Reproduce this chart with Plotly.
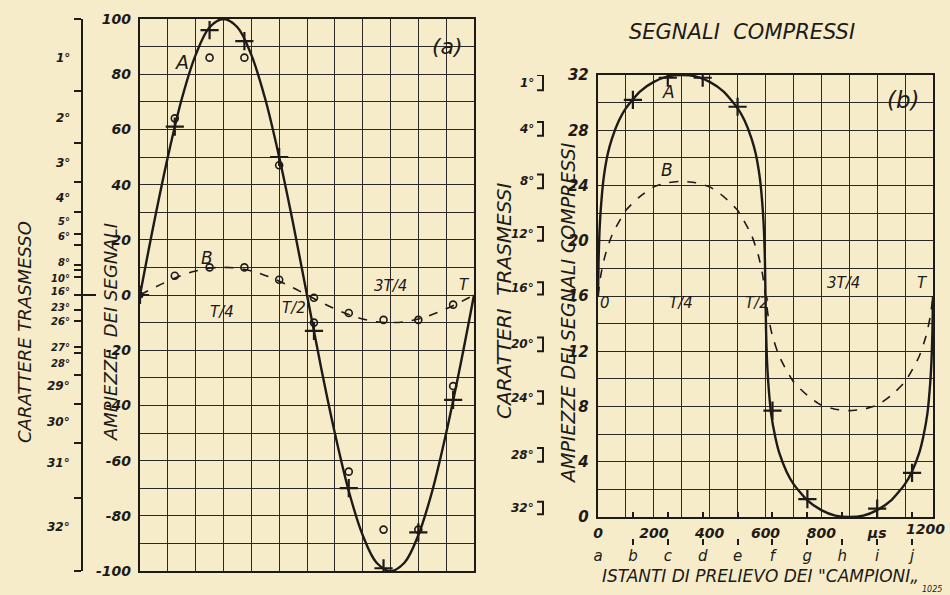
import plotly.graph_objects as go

# ---------------- data ----------------
# panel (a): time axis (µs) and amplitudes
t_a = [0, 50, 100, 150, 200, 250, 300, 350, 400, 450, 500, 550, 600,
       650, 700, 750, 800, 850, 900, 950, 1000, 1050, 1100, 1150, 1200]
A_a = [0, 26, 50, 71, 87, 97, 100, 97, 87, 71, 50, 26, 0,
       -26, -50, -71, -87, -97, -100, -97, -87, -71, -50, -26, 0]
B_a = [0, 2.6, 5, 7.1, 8.7, 9.7, 10, 9.7, 8.7, 7.1, 5, 2.6, 0,
       -2.6, -5, -7.1, -8.7, -9.7, -10, -9.7, -8.7, -7.1, -5, -2.6, 0]

sample_t = [0, 125, 250, 375, 500, 625, 750, 875, 1000, 1125]
sample_letters = ["a", "b", "c", "d", "e", "f", "g", "h", "i", "j"]

A_cross = [0, 61, 96, 92, 50, -13, -70, -99, -86, -38]
circ_t = [125, 250, 375, 500, 625, 750, 875, 1000, 1125]
A_circ = [64, 86, 86, 47, -10, -64, -85, -85, -33]
B_circ = [7, 10, 10, 5.5, -1, -6.5, -9, -9, -3.5]

a_yticks = [100, 80, 60, 40, 20, 0, -20, -40, -60, -80, -100]

# left ruler of panel (a): transmitted characters
ruler_ticks = [100, 74, 55, 41, 30, 22, 18, 11, 9, 6.5, 0,
               -5.5, -9.5, -19, -21, -29, -39.5, -53.5, -73.5, -100]
ruler_labels = ["1°", "2°", "3°", "4°", "5°", "6°", "8°", "10°", "16°",
                "23°", "26°", "27°", "28°", "29°", "30°", "31°", "32°"]
ruler_label_pos = [85.7, 64, 47.7, 35, 26.5, 21.3, 11.6, 5.9, 1.2,
                   -4.4, -9.6, -19, -24.8, -33, -46, -61, -84]

# panel (b): compressed signals
t_bA = [0, 2, 5, 10, 20, 35, 50, 75, 100, 150, 200, 250, 300, 350, 400, 450,
        500, 525, 550, 565, 580, 590, 595, 598, 600, 602, 605, 610, 620, 635,
        650, 675, 700, 750, 800, 850, 900, 950, 1000, 1050, 1100, 1125, 1150,
        1165, 1180, 1190, 1195, 1198, 1200]
A_b = [16, 18.5, 20.5, 22.3, 24.5, 26.3, 27.4, 28.7, 29.6, 30.8, 31.5, 31.9,
       32, 31.9, 31.5, 30.8, 29.6, 28.7, 27.4, 26.3, 24.5, 22.3, 20.5, 18.5,
       16, 13.5, 11.5, 9.7, 7.5, 5.8, 4.6, 3.3, 2.4, 1.2, 0.5, 0.1, 0, 0.1,
       0.5, 1.2, 2.4, 3.3, 4.6, 5.8, 7.5, 9.7, 11.5, 13.5, 16]
t_bB = [0, 10, 25, 50, 100, 150, 200, 250, 300, 350, 400, 450, 500, 550, 575,
        590, 600, 610, 625, 650, 700, 750, 800, 850, 900, 950, 1000, 1050,
        1100, 1150, 1175, 1190, 1200]
B_b = [16, 17.5, 18.9, 20.4, 22.2, 23.2, 23.9, 24.2, 24.3, 24.2, 23.9, 23.2,
       22.2, 20.4, 18.9, 17.5, 16, 14.5, 13.1, 11.6, 9.8, 8.8, 8.1, 7.8, 7.7,
       7.8, 8.1, 8.8, 9.8, 11.6, 13.1, 14.5, 16]

cross_b_t = [125, 250, 375, 500, 625, 750, 1000, 1125]
cross_b = [30.2, 31.8, 31.8, 29.7, 7.7, 1.3, 0.6, 3.2]

b_yticks = [0, 4, 8, 12, 16, 20, 24, 28, 32]
b_xticks = [0, 200, 400, 600, 800, 1000]
b_xlabels = ["0", "200", "400", "600", "800", "µs"]
b_xlast = (1200, "1200")

char_labels_b = ["1°", "4°", "8°", "12°", "16°", "20°", "24°", "28°", "32°"]
bracket_top = [32, 28.6, 24.8, 21, 17, 13, 9.1, 5, 1.1]
bracket_bot = [30.9, 27.6, 23.8, 20, 16.1, 12, 8.2, 4, 0.2]

# ---------------- style ----------------
W, H = 950, 595
bg = "#f6ecca"
ink = "#1d1a17"
grid = "#2b2825"
FONT = "DejaVu Sans"


def px(x):
    return x / W


def py(y):
    return 1 - y / H


def it(size, bold=False):
    return dict(family=FONT, size=size, color=ink, style="italic",
                weight="bold" if bold else "normal")


fig = go.Figure()

# panel (a)
fig.add_trace(go.Scatter(x=t_a, y=A_a, mode="lines", xaxis="x", yaxis="y",
                         line=dict(color=ink, width=2.4, shape="spline")))
fig.add_trace(go.Scatter(x=t_a, y=B_a, mode="lines", xaxis="x", yaxis="y",
                         line=dict(color=ink, width=1.6, dash="dash",
                                   shape="spline")))
fig.add_trace(go.Scatter(x=sample_t, y=A_cross, mode="markers", xaxis="x", yaxis="y",
                         marker=dict(symbol="cross-thin", size=13,
                                     line=dict(color=ink, width=2.2))))
fig.add_trace(go.Scatter(x=circ_t, y=A_circ, mode="markers", xaxis="x", yaxis="y",
                         marker=dict(symbol="circle-open", size=7, color=ink,
                                     line=dict(color=ink, width=1.6))))
fig.add_trace(go.Scatter(x=circ_t, y=B_circ, mode="markers", xaxis="x", yaxis="y",
                         marker=dict(symbol="circle-open", size=7, color=ink,
                                     line=dict(color=ink, width=1.6))))
fig.add_trace(go.Scatter(x=[0], y=[0], mode="markers", xaxis="x", yaxis="y",
                         marker=dict(symbol="circle", size=7, color=ink)))

# panel (b)
fig.add_trace(go.Scatter(x=t_bA, y=A_b, mode="lines", xaxis="x2", yaxis="y2",
                         line=dict(color=ink, width=2.4, shape="spline",
                                   smoothing=0.6)))
fig.add_trace(go.Scatter(x=t_bB, y=B_b, mode="lines", xaxis="x2", yaxis="y2",
                         line=dict(color=ink, width=1.6, dash="dash",
                                   shape="spline", smoothing=0.6)))
fig.add_trace(go.Scatter(x=cross_b_t, y=cross_b, mode="markers", xaxis="x2", yaxis="y2",
                         marker=dict(symbol="cross-thin", size=13,
                                     line=dict(color=ink, width=2.2))))

# empty traces so that the auxiliary axes are drawn
for xa, ya in (("x", "y3"), ("x3", "y2"), ("x4", "y2")):
    fig.add_trace(go.Scatter(x=[None], y=[None], xaxis=xa, yaxis=ya,
                             mode="markers", hoverinfo="skip"))

grid_kw = dict(showgrid=True, gridcolor=grid, gridwidth=1.4, zeroline=False,
               showline=True, mirror=True, linecolor=ink, linewidth=2.4,
               automargin=False)

a_xt = list(range(0, 1201, 100))
a_yt = list(range(-100, 101, 10))
b_yt = list(range(0, 33, 2))

layout = dict(
    width=W, height=H, margin=dict(l=0, r=0, t=0, b=0, autoexpand=False),
    paper_bgcolor=bg, plot_bgcolor=bg, showlegend=False,
    font=dict(family=FONT, color=ink),
    xaxis=dict(domain=[px(140), px(474)], range=[0, 1200], anchor="y",
               tickvals=a_xt, showticklabels=False, ticks="", **grid_kw),
    yaxis=dict(domain=[py(571), py(19)], range=[-100, 100], anchor="x",
               tickvals=a_yt,
               ticktext=[str(v) if v in a_yticks else "" for v in a_yt],
               ticks="", ticklabelstandoff=4, tickfont=it(14, True),
               **grid_kw),
    yaxis3=dict(overlaying="y", anchor="free", position=px(82), side="left",
                range=[-100, 100], showgrid=False, zeroline=False,
                showline=True, linecolor=ink, linewidth=2.2, automargin=False,
                showticklabels=False, tickvals=ruler_ticks,
                ticks="outside", ticklen=7, tickwidth=2, tickcolor=ink),
    xaxis2=dict(domain=[px(598), px(933)], range=[0, 1200], anchor="y2",
                tickvals=a_xt,
                ticktext=[b_xlabels[b_xticks.index(v)] if v in b_xticks else ""
                          for v in a_xt],
                ticks="", ticklabelstandoff=2, tickfont=it(14, True),
                **grid_kw),
    yaxis2=dict(domain=[py(517), py(75)], range=[0, 32], anchor="x2",
                tickvals=b_yt,
                ticktext=[str(v) if v in b_yticks else "" for v in b_yt],
                ticks="", ticklabelstandoff=4, tickfont=it(15, True),
                **grid_kw),
    xaxis4=dict(overlaying="x2", anchor="y2", range=[0, 1200],
                tickvals=sample_t[1:], showticklabels=False, ticks="inside",
                ticklen=5, tickwidth=1.5, tickcolor=ink, showgrid=False,
                zeroline=False, showline=False, automargin=False),
    xaxis3=dict(overlaying="x2", anchor="free", position=py(545),
                range=[0, 1200], tickvals=sample_t, ticktext=sample_letters,
                ticks="inside", ticklen=6, tickwidth=1.5, tickcolor=ink,
                ticklabelstandoff=0, tickfont=it(15), automargin=False,
                showgrid=False, zeroline=False, showline=False),
)
fig.update_layout(**layout)

shapes = []
# long 16° mark of the ruler on the zero level
shapes.append(dict(type="line", xref="paper", yref="y", x0=px(74), x1=px(96),
                   y0=0, y1=0, line=dict(color=ink, width=2)))
# brackets of the panel (b) character scale
xl, xr = px(537), px(543)
for top, bot in zip(bracket_top, bracket_bot):
    shapes.append(dict(type="path", xref="paper", yref="y2",
                       path=f"M {xl},{top} L {xr},{top} L {xr},{bot} L {xl},{bot}",
                       line=dict(color=ink, width=2)))
fig.update_layout(shapes=shapes)

ann = []


def add(text, x, y, size, bold=False, angle=0, xanchor="center", xref="paper",
        yref="paper"):
    ann.append(dict(text=text, x=x, y=y, xref=xref, yref=yref, showarrow=False,
                    font=it(size, bold), textangle=angle, xanchor=xanchor,
                    yanchor="middle"))


# ruler labels of panel (a): smaller where they are crowded
for i, (lab, pos) in enumerate(zip(ruler_labels, ruler_label_pos)):
    gaps = []
    if i > 0:
        gaps.append(abs(ruler_label_pos[i - 1] - pos))
    if i < len(ruler_label_pos) - 1:
        gaps.append(abs(ruler_label_pos[i + 1] - pos))
    size = 10 if min(gaps) < 7 else 12
    add(lab, px(72), pos, size, True, xanchor="right", yref="y")

# bracket labels panel (b)
for lab, top, bot in zip(char_labels_b, bracket_top, bracket_bot):
    add(lab, px(536), (top + bot) / 2, 12, True, xanchor="right", yref="y2")

# last x label of panel (b), kept inside the page
ann.append(dict(text=b_xlast[1], x=b_xlast[0], y=0, xref="x2", yref="y2",
                showarrow=False, font=it(14, True), xanchor="right",
                yanchor="top", xshift=14, yshift=-2))

# panel (a) texts
add("(a)", px(447), py(47), 22)
add("A", px(181), py(62), 19)
add("B", px(207), py(258), 17)
add("T/4", px(222), py(312), 15)
add("T/2", px(294), py(308), 15)
add("3T/4", px(390), py(286), 15)
add("T", px(464), py(285), 15)
add("AMPIEZZE, DEI SEGNALI", px(110), py(332), 18, angle=-90)
add("CARATTERE TRASMESSO", px(24), py(332), 18, angle=-90)

# panel (b) texts
add("SEGNALI  COMPRESSI", px(742), py(32), 21)
add("(b)", px(903), py(100), 23)
add("A", px(668), py(92), 17)
add("B", px(667), py(170), 17)
add("0", px(605), py(303), 15)
add("T/4", px(681), py(303), 15)
add("T/2", px(757), py(303), 15)
add("3T/4", px(843), py(283), 15)
add("T", px(922), py(283), 15)
add("CARATTERI  TRASMESSI", px(504), py(301), 20, angle=-90)
add("AMPIEZZE DEI SEGNALI COMPRESSI", px(568), py(313), 19, angle=-90)
add("ISTANTI DI PRELIEVO DEI \"CAMPIONI„", px(760), py(576), 17)
add("1025", px(932), py(589), 8)

fig.update_layout(annotations=ann)

fig.write_html("out.html", config={"displayModeBar": False},
               post_script="document.body.style.margin='0';")
